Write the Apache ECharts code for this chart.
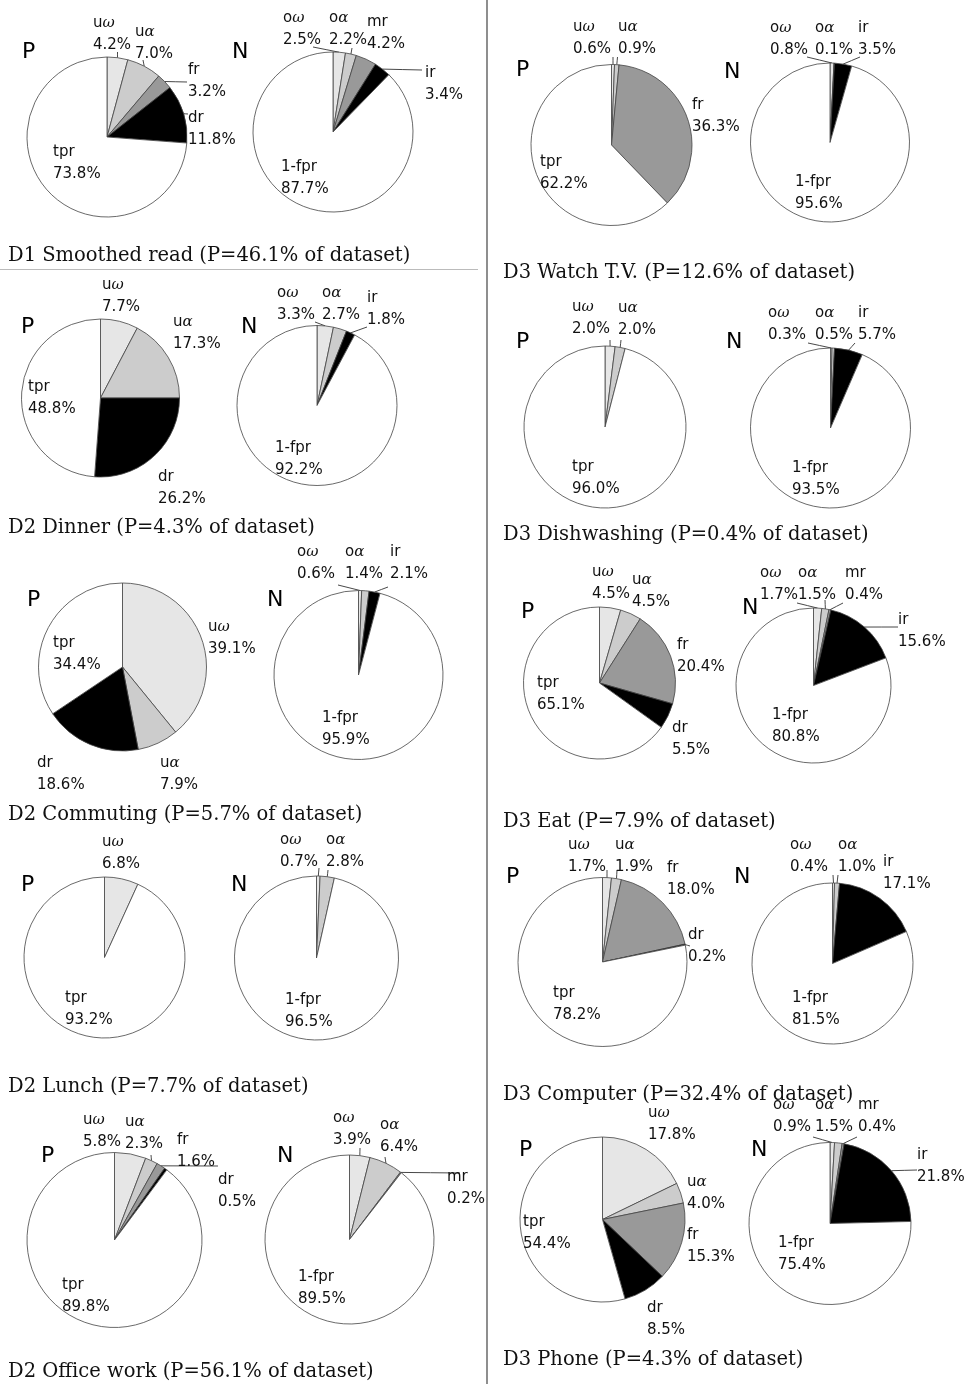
<!DOCTYPE html>
<html>
<head>
<meta charset="utf-8">
<script src="https://cdn.jsdelivr.net/npm/echarts@6/dist/echarts.min.js"></script>
<style>
  html, body { margin: 0; padding: 0; background: #fff; }
  #chart { width: 967px; height: 1384px; }
</style>
</head>
<body>
<div id="chart"></div>
<script>
// ---- data ----
// panels: left column top->bottom, then right column top->bottom
const panelTitles = [
  'D1 Smoothed read (P=46.1% of dataset)',
  'D2 Dinner (P=4.3% of dataset)',
  'D2 Commuting (P=5.7% of dataset)',
  'D2 Lunch (P=7.7% of dataset)',
  'D2 Office work (P=56.1% of dataset)',
  'D3 Watch T.V. (P=12.6% of dataset)',
  'D3 Dishwashing (P=0.4% of dataset)',
  'D3 Eat (P=7.9% of dataset)',
  'D3 Computer (P=32.4% of dataset)',
  'D3 Phone (P=4.3% of dataset)'
];
const pCategories = ['uω', 'uα', 'fr', 'dr', 'tpr'];
const nCategories = ['oω', 'oα', 'mr', 'ir', '1-fpr'];
// P pies: uω, uα, fr, dr, tpr
const pValues = [
  [4.2, 7.0, 3.2, 11.8, 73.8],
  [7.7, 17.3, 0, 26.2, 48.8],
  [39.1, 7.9, 0, 18.6, 34.4],
  [6.8, 0, 0, 0, 93.2],
  [5.8, 2.3, 1.6, 0.5, 89.8],
  [0.6, 0.9, 36.3, 0, 62.2],
  [2.0, 2.0, 0, 0, 96.0],
  [4.5, 4.5, 20.4, 5.5, 65.1],
  [1.7, 1.9, 18.0, 0.2, 78.2],
  [17.8, 4.0, 15.3, 8.5, 54.4]
];
// N pies: oω, oα, mr, ir, 1-fpr
const nValues = [
  [2.5, 2.2, 4.2, 3.4, 87.7],
  [3.3, 2.7, 0, 1.8, 92.2],
  [0.6, 1.4, 0, 2.1, 95.9],
  [0.7, 2.8, 0, 0, 96.5],
  [3.9, 6.4, 0.2, 0, 89.5],
  [0.8, 0.1, 0, 3.5, 95.6],
  [0.3, 0.5, 0, 5.7, 93.5],
  [1.7, 1.5, 0.4, 15.6, 80.8],
  [0.4, 1.0, 0, 17.1, 81.5],
  [0.9, 1.5, 0.4, 21.8, 75.4]
];
const sliceColors = ['#e6e6e6', '#cccccc', '#999999', '#000000', '#ffffff'];

// ---- layout (pixels) ----
// [cx, cy, r] for the P pie and the N pie of each panel
const pieGeom = [
  [[107, 137, 80], [333, 132, 80]],
  [[100.5, 398, 79], [317, 405.5, 80]],
  [[122.5, 667, 84], [358.5, 675, 84.5]],
  [[104.5, 957.5, 80.5], [316.5, 958, 82]],
  [[114.5, 1240, 87.5], [349.5, 1239.5, 84.5]],
  [[611.5, 145, 80.5], [830, 142.5, 79.5]],
  [[605, 427, 81], [830.5, 428, 80]],
  [[599.5, 683, 76], [813.5, 685.5, 77.5]],
  [[602.5, 962, 84.5], [832.5, 963.5, 80.5]],
  [[602.5, 1219.5, 82.5], [830, 1223.5, 81]]
];
const titlePos = [
  [8, 256], [8, 528], [8, 815], [8, 1087], [8, 1372],
  [503, 273], [503, 535], [503, 822], [503, 1095], [503, 1360]
];
const letterPos = [
  [[22, 41], [232, 41]], [[21, 316], [241, 316]], [[27, 589], [267, 589]],
  [[21, 874], [231, 874]], [[41, 1145], [277, 1145]],
  [[516, 59], [724, 61]], [[516, 331], [726, 331]], [[521, 601], [742, 597]],
  [[506, 866], [734, 866]], [[519, 1139], [751, 1139]]
];
// label: [left x, top of value line, (leader line end x, y)]
const pLabelPos = [
  [[93, 38, 117.5, 52], [135, 47, 143, 60], [188, 85, 187, 82], [188, 133, 188, 114], [53, 167]],
  [[102, 300], [173, 337], null, [158, 492], [28, 402]],
  [[208, 642], [160, 778], null, [37, 778], [53, 658]],
  [[102, 857], null, null, null, [65, 1013]],
  [[83, 1135], [125, 1137, 151, 1155], [177, 1155, 218, 1166], [218, 1195], [62, 1300]],
  [[573, 42, 613, 57], [618, 42, 617.5, 57], [692, 120], null, [540, 177]],
  [[572, 322, 610, 340], [618, 323, 621, 340], null, null, [572, 482]],
  [[592, 587], [632, 595], [677, 660], [672, 743], [537, 698]],
  [[568, 860, 607, 870], [615, 860, 617, 870], [667, 883], [688, 950, 690, 946], [553, 1008]],
  [[648, 1128], [687, 1197], [687, 1250], [647, 1323], [523, 1237]]
];
const nLabelPos = [
  [[283, 33, 313, 47], [329, 33, 352, 48], [367, 37], [425, 88, 422, 70], [281, 182]],
  [[277, 308, 315, 322], [322, 308], null, [367, 313, 367, 327], [275, 463]],
  [[297, 567, 338, 585], [345, 567], null, [390, 567, 388, 587], [322, 733]],
  [[280, 855, 319, 868], [326, 855, 328, 870], null, null, [285, 1015]],
  [[333, 1133, 360, 1148], [380, 1140, 385, 1157], [447, 1192, 460, 1173], null, [298, 1292]],
  [[770, 43, 807, 57], [815, 43], null, [858, 43, 860, 57], [795, 197]],
  [[768, 328, 808, 343], [815, 328], null, [858, 328, 855, 343], [792, 483]],
  [[760, 588, 797, 603], [798, 588, 825, 600], [845, 588, 843, 603], [898, 635, 898, 627], [772, 730]],
  [[790, 860, 833, 875], [838, 860, 838, 875], null, [883, 877], [792, 1013]],
  [[773, 1120, 813, 1137], [815, 1120], [858, 1120, 857, 1137], [917, 1170, 917, 1170], [778, 1258]]
];

const SANS = 'DejaVu Sans';
const SERIF = 'DejaVu Serif';

function labelText(p) {
  const g = p.name.match(/[ωα]/);
  const head = g
    ? '{n|' + p.name.replace(/[ωα]/, '') + '}{g|' + g[0] + '}'
    : '{n|' + p.name + '}';
  return head + '\n{n|' + p.value.toFixed(1) + '%}';
}

function buildPie(cats, vals, pos, geom) {
  const [cx, cy, r] = geom;
  const total = vals.reduce((a, b) => a + b, 0);
  const data = [];
  const lay = [];
  let cum = 0;
  vals.forEach((v, i) => {
    if (!v) return;
    const mid = (cum + v / 2) / total * Math.PI * 2;
    cum += v;
    const p = pos[i];
    const hasLine = p.length > 2;
    data.push({
      name: cats[i],
      value: v,
      itemStyle: { color: sliceColors[i] },
      labelLine: { show: hasLine }
    });
    const edge = [cx + r * Math.sin(mid), cy - r * Math.cos(mid)];
    lay.push({
      x: p[0],
      y: p[1] - 26,
      line: hasLine ? [edge, [(edge[0] + p[2]) / 2, (edge[1] + p[3]) / 2], [p[2], p[3]]] : null
    });
  });
  return {
    type: 'pie',
    center: [cx, cy],
    radius: r,
    startAngle: 90,
    clockwise: true,
    avoidLabelOverlap: false,
    silent: true,
    data,
    itemStyle: { borderColor: '#444', borderWidth: 0.8 },
    label: {
      show: true,
      position: 'outside',
      formatter: labelText,
      rich: {
        n: { fontFamily: SANS, fontSize: 15, lineHeight: 22, color: '#111' },
        g: { fontFamily: SERIF, fontStyle: 'italic', fontSize: 15, lineHeight: 22, color: '#111' }
      }
    },
    labelLine: { length: 6, length2: 6, lineStyle: { color: '#333', width: 0.9 } },
    labelLayout: (params) => {
      const l = lay[params.dataIndex];
      const out = { x: l.x, y: l.y, align: 'left', verticalAlign: 'top' };
      if (l.line) out.labelLinePoints = l.line;
      return out;
    },
    emphasis: { disabled: true }
  };
}

const series = [];
const graphics = [];
panelTitles.forEach((title, k) => {
  series.push(buildPie(pCategories, pValues[k], pLabelPos[k], pieGeom[k][0]));
  series.push(buildPie(nCategories, nValues[k], nLabelPos[k], pieGeom[k][1]));
  graphics.push({
    type: 'text',
    style: {
      text: title, x: titlePos[k][0], y: titlePos[k][1],
      font: '19.5px "' + SERIF + '"', fill: '#111',
      align: 'left', verticalAlign: 'middle', textAlign: 'left', textVerticalAlign: 'middle'
    }
  });
  ['P', 'N'].forEach((ch, s) => {
    graphics.push({
      type: 'text',
      style: {
        text: ch, x: letterPos[k][s][0], y: letterPos[k][s][1],
        font: '22px "' + SANS + '"', fill: '#000',
        align: 'left', verticalAlign: 'top', textAlign: 'left', textVerticalAlign: 'top'
      }
    });
  });
});
// column divider and rule under the first title
graphics.push({ type: 'line', shape: { x1: 487, y1: 0, x2: 487, y2: 1384 }, style: { stroke: '#444', lineWidth: 1.2 } });
graphics.push({ type: 'line', shape: { x1: 0, y1: 269.5, x2: 478, y2: 269.5 }, style: { stroke: '#bbb', lineWidth: 1 } });

const chart = echarts.init(document.getElementById('chart'), null, { renderer: 'canvas' });
chart.setOption({
  animation: false,
  backgroundColor: '#fff',
  series,
  graphic: { elements: graphics }
});
</script>
</body>
</html>
